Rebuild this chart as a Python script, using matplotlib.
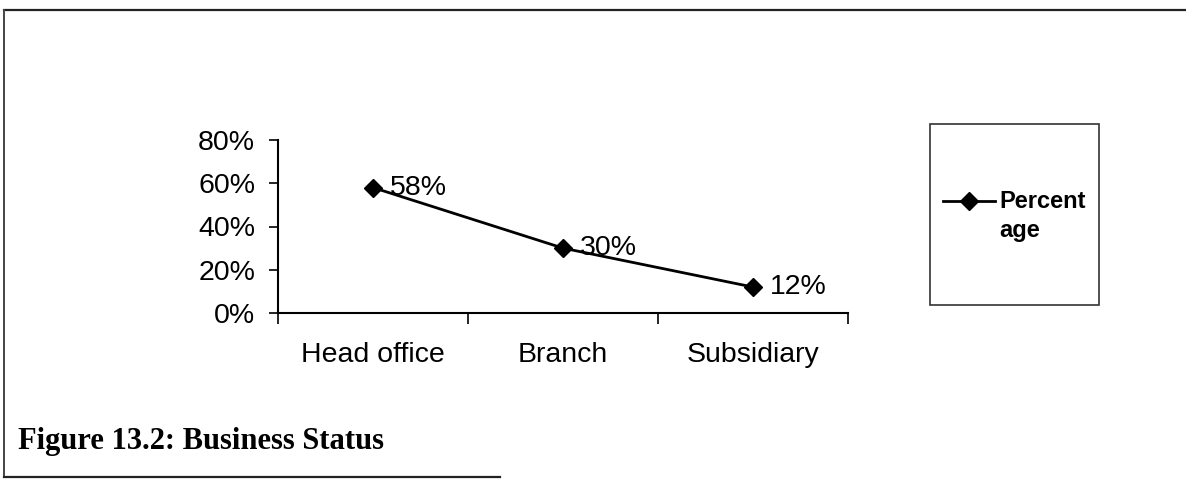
import matplotlib
matplotlib.use("Agg")
import matplotlib.pyplot as plt
import numpy as np
from matplotlib.lines import Line2D
from matplotlib.patches import Rectangle
from matplotlib.legend_handler import HandlerLine2D
from matplotlib.ticker import FuncFormatter, FixedLocator

# data
categories = ["Head office", "Branch", "Subsidiary"]
percent = [0.58, 0.30, 0.12]
value_labels = ["58%", "30%", "12%"]
y_ticks = [0.0, 0.2, 0.4, 0.6, 0.8]
series_name = "Percent\nage"
caption = "Figure 13.2: Business Status"

plt.rcParams["font.family"] = ["Liberation Sans", "DejaVu Sans"]

W, H = 1186, 480
fs = 20.5
fig = plt.figure(figsize=(W / 100, H / 100), dpi=100)
fig.patch.set_facecolor("white")

# plot area in pixels -> figure fraction
ax = fig.add_axes([278 / W, 1 - 313 / H, (848 - 278) / W, (313 - 140) / H])

x = list(range(len(categories)))
line, = ax.plot(x, percent, color="black", lw=2, marker="D", markersize=9.5,
                markerfacecolor="black", markeredgecolor="black", label=series_name)

for xi, yi, lab in zip(x, percent, value_labels):
    ax.annotate(lab, (xi, yi), xytext=(12, 0), textcoords="offset points",
                va="center", ha="left", fontsize=fs)

ax.set_xlim(-0.5, len(categories) - 0.5)
ax.set_ylim(0, 0.8)
ax.set_yticks(y_ticks)
ax.yaxis.set_major_formatter(FuncFormatter(lambda v, p: f"{v * 100:.0f}%"))
ax.tick_params(axis="y", direction="out", length=6.5, width=1.2, pad=10, labelsize=fs)

ax.set_xticks(x)
ax.set_xticklabels(categories)
ax.tick_params(axis="x", which="major", length=0, pad=21, labelsize=fs)
ax.xaxis.set_minor_locator(FixedLocator([i - 0.5 for i in range(len(categories) + 1)]))
ax.tick_params(axis="x", which="minor", direction="out", length=8, width=1.2)

for s in ["top", "right"]:
    ax.spines[s].set_visible(False)
for s in ["left", "bottom"]:
    ax.spines[s].set_linewidth(1.5)
ax.patch.set_alpha(0)


# legend key sits level with the first line of the wrapped label
def raise_handle(h, orig):
    h.update_from(orig)
    h.set_ydata(np.asarray(h.get_ydata(), dtype=float) + 11.2)


fig.add_artist(Rectangle((930 / W, 1 - 305 / H), 169 / W, 181 / H, transform=fig.transFigure,
                         fill=False, edgecolor="#333333", lw=1.2))
leg = fig.legend(handles=[line], labels=[series_name], loc="center left",
                 bbox_to_anchor=(931 / W, 1 - 216 / H), frameon=False,
                 handler_map={line: HandlerLine2D(update_func=raise_handle)},
                 handlelength=2.2, handletextpad=0.2, borderpad=0,
                 prop={"weight": "bold", "size": 17})
for t in leg.get_texts():
    t.set_linespacing(1.35)

# outer frame of the figure block
fig.add_artist(Line2D([4 / W, 1.0], [1 - 10 / H, 1 - 10 / H], transform=fig.transFigure,
                      color="#222222", lw=1.6))
fig.add_artist(Line2D([4 / W, 4 / W], [1 - 10 / H, 1 - 477 / H], transform=fig.transFigure,
                      color="#444444", lw=1.4))
fig.add_artist(Line2D([4 / W, 500 / W], [1 - 477 / H, 1 - 477 / H], transform=fig.transFigure,
                      color="#222222", lw=1.6))

fig.text(18 / W, 1 - 441 / H, caption, ha="left", va="center",
         family=["Liberation Serif", "DejaVu Serif"], weight="bold", fontsize=22)

fig.savefig("out.png", dpi=100, facecolor="white")
